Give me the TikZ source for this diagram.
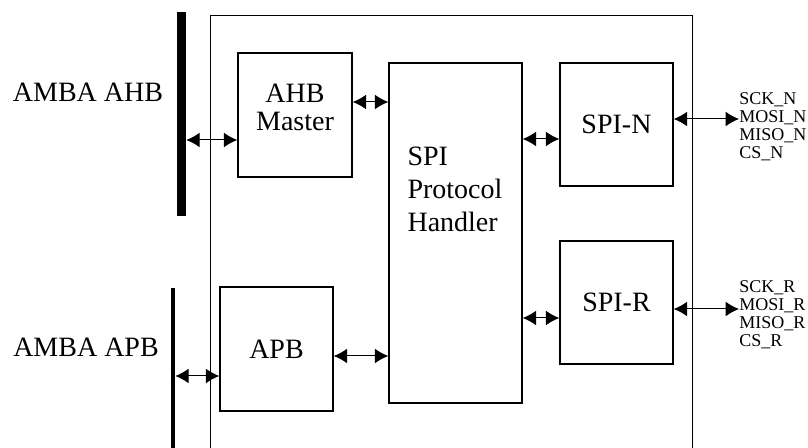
\documentclass[tikz,border=0pt]{standalone}
\usepackage{fontspec}
\setmainfont{Liberation Serif}
\usetikzlibrary{arrows.meta}

\begin{document}
\begin{tikzpicture}[>={Latex[length=10pt,width=11pt]}, x=0.75pt, y=-0.75pt,
  blk/.style={draw, line width=1.1pt, inner sep=0pt, align=center, font=\fontsize{21}{19}\selectfont},
  bus/.style={fill=black, inner sep=0pt},
  link/.style={<->, line width=0.75pt},
  sig/.style={anchor=north west, inner sep=0pt, align=left, font=\fontsize{13.5}{13.5}\selectfont}]
  \useasboundingbox (0,0) rectangle (808,448);
  % outer frame, open at the bottom
  \draw[line width=0.75pt] (210,448) -- (210,16) -- (692,16) -- (692,448);
  % buses
  \node (ahbbus) [bus, minimum width=6.75pt, minimum height=153pt] at (181.5,114) {};
  \node (apbbus) [bus, minimum width=3pt, minimum height=120pt] at (173,368) {};
  \node (ahblbl) [font=\fontsize{21}{24}\selectfont] at (88,92) {AMBA AHB};
  \node (apblbl) [font=\fontsize{21}{24}\selectfont] at (86,347) {AMBA APB};
  % blocks
  \node (ahbm) [blk, minimum width=85.5pt, minimum height=93pt,
    label={[name=ahbmtxt, align=center, yshift=6pt, font=\fontsize{21}{21}\selectfont]center:AHB\\Master}] at (295,115) {};
  \node (apb) [blk, minimum width=84.75pt, minimum height=93pt] at (276.5,349) {APB};
  \node (sph) [blk, minimum width=99.75pt, minimum height=255pt] at (455.5,233) {};
  \node (sphtxt) [anchor=north west, inner sep=0pt, align=left, font=\fontsize{21}{24.75}\selectfont]
    at ([shift={(19,84)}]sph.north west) {SPI\\Protocol\\Handler};
  \node (spin) [blk, minimum width=84.75pt, minimum height=92.25pt] at (616.5,124.5) {SPI-N};
  \node (spir) [blk, minimum width=84.75pt, minimum height=92.25pt] at (616.5,302.5) {SPI-R};
  % pins
  \node (nsig) [sig] at (739,92) {SCK\_N\\MOSI\_N\\MISO\_N\\CS\_N};
  \node (rsig) [sig] at (739,280) {SCK\_R\\MOSI\_R\\MISO\_R\\CS\_R};
  % links
  \draw[link] (ahbbus.east |- 0,140) -- (ahbm.west |- 0,140);
  \draw[link] (ahbm.east |- 0,102) -- (sph.west |- 0,102);
  \draw[link] (apbbus.east |- 0,376) -- (apb.west |- 0,376);
  \draw[link] (apb.east |- 0,356) -- (sph.west |- 0,356);
  \draw[link] (sph.east |- 0,139) -- (spin.west |- 0,139);
  \draw[link] (sph.east |- 0,318) -- (spir.west |- 0,318);
  \draw[link] (spin.east |- 0,119) -- (nsig.west |- 0,119);
  \draw[link] (spir.east |- 0,309) -- (rsig.west |- 0,309);
\end{tikzpicture}
\end{document}
